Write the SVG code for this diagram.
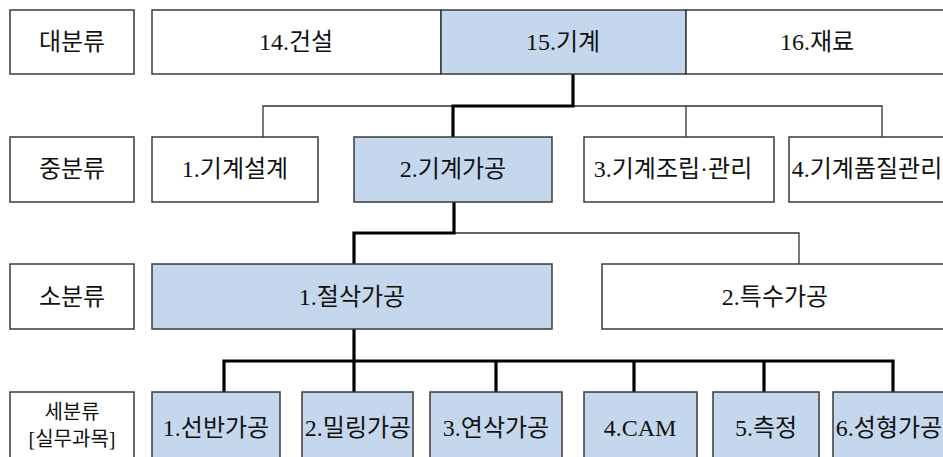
<svg xmlns="http://www.w3.org/2000/svg" width="943" height="457" viewBox="0 0 943 457">
<style>
.b{fill:#ffffff;stroke:#3a3a3a;stroke-width:1.5}
.h{fill:#c5d7ec;stroke:#3a3a3a;stroke-width:1.5}
.t{font-family:"Liberation Serif","Noto Sans CJK KR",serif;font-size:24px;fill:#111;text-anchor:middle;dominant-baseline:central}
.s{font-size:20px}
.thick{fill:none;stroke:#000;stroke-width:3.2;stroke-linejoin:miter}
.thin{fill:none;stroke:#333;stroke-width:1.3}
</style>
<rect width="943" height="457" fill="#ffffff"/>
<g id="connectors">
<path class="thin" d="M263,137 V106 H882 V137 M686,106 V137"/>
<path class="thin" d="M454,233 H799 V264"/>
<path class="thick" d="M573,74 V106 H453 V137"/>
<path class="thick" d="M454,202 V233 H354 V264"/>
<path class="thick" d="M354,329 V392 M224,392 V361 H893 V392 M496,361 V392 M634,361 V392 M764,361 V392"/>
</g>
<g id="label-dae"><rect class="b" x="10" y="10" width="124" height="64"/><text class="t" x="72" y="42">대분류</text></g>
<g id="n14"><rect class="b" x="152" y="10" width="289" height="64"/><text class="t" x="296" y="42">14.건설</text></g>
<g id="n15"><rect class="h" x="441" y="10" width="245" height="64"/><text class="t" x="563" y="42">15.기계</text></g>
<g id="n16"><rect class="b" x="686" y="10" width="262" height="64"/><text class="t" x="817" y="42">16.재료</text></g>
<g id="label-jung"><rect class="b" x="10" y="137" width="124" height="65"/><text class="t" x="72" y="169">중분류</text></g>
<g id="m1"><rect class="b" x="152" y="137" width="166" height="65"/><text class="t" x="235" y="169">1.기계설계</text></g>
<g id="m2"><rect class="h" x="354" y="137" width="198" height="65"/><text class="t" x="453" y="169">2.기계가공</text></g>
<g id="m3"><rect class="b" x="584" y="137" width="190" height="65"/><text class="t" x="673" y="169">3.기계조립·관리</text></g>
<g id="m4"><rect class="b" x="789" y="137" width="160" height="65"/><text class="t" x="867" y="169">4.기계품질관리</text></g>
<g id="label-so"><rect class="b" x="10" y="264" width="124" height="65"/><text class="t" x="72" y="297">소분류</text></g>
<g id="s1"><rect class="h" x="152" y="264" width="400" height="65"/><text class="t" x="352" y="297">1.절삭가공</text></g>
<g id="s2"><rect class="b" x="602" y="264" width="347" height="65"/><text class="t" x="775" y="297">2.특수가공</text></g>
<g id="label-se"><rect class="b" x="10" y="392" width="124" height="80"/><text class="t s" x="72" y="412">세분류</text><text class="t s" x="72" y="439">[실무과목]</text></g>
<g id="d1"><rect class="h" x="152" y="392" width="128" height="80"/><text class="t" x="216" y="428">1.선반가공</text></g>
<g id="d2"><rect class="h" x="302" y="392" width="111" height="80"/><text class="t" x="358" y="428">2.밀링가공</text></g>
<g id="d3"><rect class="h" x="430" y="392" width="132" height="80"/><text class="t" x="496" y="428">3.연삭가공</text></g>
<g id="d4"><rect class="h" x="584" y="392" width="113" height="80"/><text class="t" x="640" y="428">4.CAM</text></g>
<g id="d5"><rect class="h" x="713" y="392" width="106" height="80"/><text class="t" x="766" y="428">5.측정</text></g>
<g id="d6"><rect class="h" x="833" y="392" width="116" height="80"/><text class="t" x="889" y="428">6.성형가공</text></g>
</svg>
